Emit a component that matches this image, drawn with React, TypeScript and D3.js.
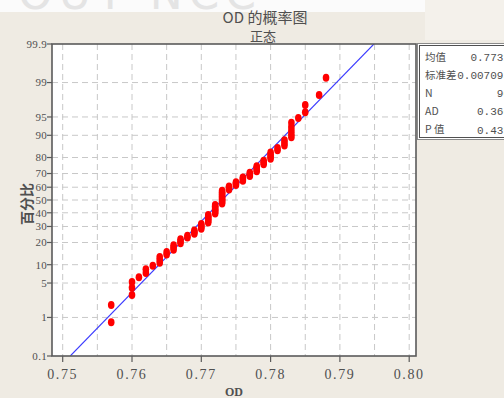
import { useEffect, useRef } from "react";
import * as d3 from "d3";

// OD readings (rounded to 0.001) and how many times each occurs
const odValues = [
  0.757, 0.76, 0.761, 0.762, 0.763, 0.764, 0.765, 0.766, 0.767, 0.768, 0.769,
  0.77, 0.771, 0.772, 0.773, 0.774, 0.775, 0.776, 0.777, 0.778, 0.779, 0.78,
  0.781, 0.782, 0.783, 0.784, 0.785, 0.787, 0.788,
];
const odCounts = [
  2, 3, 1, 2, 1, 3, 2, 3, 3, 2, 3, 4, 6, 7, 10, 3, 3, 3, 3, 4, 3, 4, 2, 3, 5,
  1, 2, 1, 1,
];

const yTickPercents = [0.1, 1, 5, 10, 20, 30, 40, 50, 60, 70, 80, 90, 95, 99, 99.9];
const xTicks = [0.75, 0.76, 0.77, 0.78, 0.79, 0.8];
const xGrid = [0.75, 0.755, 0.76, 0.765, 0.77, 0.775, 0.78, 0.785, 0.79, 0.795, 0.8];

const statLabels = ["均值", "标准差", "N", "AD", "P 值"];
const statValues = ["0.7731", "0.007093", "90", "0.366", "0.435"];

const fitMean = 0.773;
const fitSd = 0.00709;

// inverse normal cdf (Acklam)
function probit(p: number) {
  const a = [-39.69683028665376, 220.9460984245205, -275.928510446969, 138.357751867269, -30.66479806614716, 2.506628277459239];
  const b = [-54.47609879822406, 161.5858368580409, -155.6989798598866, 66.80131188771972, -13.28068155288572];
  const c = [-0.007784894002430293, -0.3223964580411365, -2.400758277161838, -2.549732539343734, 4.374664141464968, 2.938163982698783];
  const d = [0.007784695709041462, 0.3224671290700398, 2.445134137142996, 3.754408661907416];
  const plow = 0.02425;
  if (p < plow) {
    const q = Math.sqrt(-2 * Math.log(p));
    return (((((c[0] * q + c[1]) * q + c[2]) * q + c[3]) * q + c[4]) * q + c[5]) /
      ((((d[0] * q + d[1]) * q + d[2]) * q + d[3]) * q + 1);
  }
  if (p > 1 - plow) {
    const q = Math.sqrt(-2 * Math.log(1 - p));
    return -(((((c[0] * q + c[1]) * q + c[2]) * q + c[3]) * q + c[4]) * q + c[5]) /
      ((((d[0] * q + d[1]) * q + d[2]) * q + d[3]) * q + 1);
  }
  const q = p - 0.5;
  const r = q * q;
  return ((((((a[0] * r + a[1]) * r + a[2]) * r + a[3]) * r + a[4]) * r + a[5]) * q) /
    (((((b[0] * r + b[1]) * r + b[2]) * r + b[3]) * r + b[4]) * r + 1);
}

const ProbabilityPlot = () => {
  const ref = useRef<SVGSVGElement | null>(null);

  useEffect(() => {
    if (!ref.current) return;
    const width = 504;
    const height = 398;
    const plot = { left: 52, right: 416, top: 44, bottom: 356 };
    const textColor = "#505050";
    const numFont = "'Liberation Serif', 'Noto Sans CJK SC', serif";
    const cjkFont = "'Noto Sans CJK SC', 'Liberation Serif', serif";

    const svg = d3.select(ref.current);
    svg.selectAll("*").remove();
    svg.attr("width", width).attr("height", height);

    // background
    svg.append("rect").attr("width", width).attr("height", height).attr("fill", "#efebe3");
    svg.append("rect").attr("x", 0).attr("y", 0).attr("width", 425).attr("height", 12).attr("fill", "#fbfbfb");
    svg.append("rect").attr("x", 425).attr("y", 0).attr("width", 79).attr("height", 40).attr("fill", "#f4f1eb");
    svg
      .append("clipPath")
      .attr("id", "wmClip")
      .append("rect")
      .attr("width", 425)
      .attr("height", 12);
    svg
      .append("text")
      .attr("clip-path", "url(#wmClip)")
      .attr("x", 18)
      .attr("y", 9)
      .attr("font-family", "'DejaVu Sans', sans-serif")
      .attr("font-size", 44)
      .attr("letter-spacing", 6)
      .attr("fill", "#e4e4e4")
      .text("OUT NCC");

    const x = d3.scaleLinear().domain([0.75, 0.8]).range([62.7, 409.2]);
    const y = d3
      .scaleLinear()
      .domain([probit(0.001), probit(0.999)])
      .range([plot.bottom, plot.top]);

    svg
      .append("rect")
      .attr("x", plot.left)
      .attr("y", plot.top)
      .attr("width", plot.right - plot.left)
      .attr("height", plot.bottom - plot.top)
      .attr("fill", "white");

    // grid
    svg
      .append("g")
      .selectAll("line")
      .data(xGrid)
      .join("line")
      .attr("x1", (d) => x(d))
      .attr("x2", (d) => x(d))
      .attr("y1", plot.top)
      .attr("y2", plot.bottom)
      .attr("stroke", "#c8c8c8")
      .attr("stroke-dasharray", "6,4");

    svg
      .append("g")
      .selectAll("line")
      .data(yTickPercents.slice(1, -1))
      .join("line")
      .attr("x1", plot.left)
      .attr("x2", plot.right)
      .attr("y1", (d) => y(probit(d / 100)))
      .attr("y2", (d) => y(probit(d / 100)))
      .attr("stroke", "#c8c8c8")
      .attr("stroke-dasharray", "6,4");

    // fitted line
    const zLo = probit(0.001);
    const zHi = probit(0.999);
    const clipId = "plotClip";
    svg
      .append("clipPath")
      .attr("id", clipId)
      .append("rect")
      .attr("x", plot.left)
      .attr("y", plot.top)
      .attr("width", plot.right - plot.left)
      .attr("height", plot.bottom - plot.top);
    svg
      .append("line")
      .attr("clip-path", `url(#${clipId})`)
      .attr("x1", x(fitMean + fitSd * zLo))
      .attr("y1", y(zLo))
      .attr("x2", x(fitMean + fitSd * zHi))
      .attr("y2", y(zHi))
      .attr("stroke", "#3b3bff")
      .attr("stroke-width", 1.1);

    // points, median rank plotting positions
    const sorted: number[] = [];
    odValues.forEach((v, i) => {
      for (let k = 0; k < odCounts[i]; k++) sorted.push(v);
    });
    sorted.sort((a, b) => a - b);
    const n = sorted.length;
    const pts = sorted.map((v, i) => ({ v, z: probit((i + 1 - 0.3) / (n + 0.4)) }));

    svg
      .append("g")
      .selectAll("ellipse")
      .data(pts)
      .join("ellipse")
      .attr("cx", (d) => x(d.v))
      .attr("cy", (d) => y(d.z))
      .attr("rx", 3.3)
      .attr("ry", 4)
      .attr("fill", "#ff0000");

    // border
    svg
      .append("rect")
      .attr("x", plot.left)
      .attr("y", plot.top)
      .attr("width", plot.right - plot.left)
      .attr("height", plot.bottom - plot.top)
      .attr("fill", "none")
      .attr("stroke", "#5a5a5a")
      .attr("stroke-width", 1.6);

    // y axis ticks and labels
    const yAxis = svg.append("g");
    yTickPercents.forEach((p) => {
      const yy = y(probit(p / 100));
      yAxis
        .append("line")
        .attr("x1", plot.left - 5)
        .attr("x2", plot.left)
        .attr("y1", yy)
        .attr("y2", yy)
        .attr("stroke", "#5a5a5a")
        .attr("stroke-width", 1.2);
      yAxis
        .append("text")
        .attr("x", plot.left - 5)
        .attr("y", yy)
        .attr("dy", "0.35em")
        .attr("text-anchor", "end")
        .attr("font-family", numFont)
        .attr("font-size", 11)
        .attr("letter-spacing", 0.3)
        .attr("fill", textColor)
        .text(String(p));
    });

    // x axis ticks and labels
    const xAxis = svg.append("g");
    xTicks.forEach((t) => {
      xAxis
        .append("line")
        .attr("x1", x(t))
        .attr("x2", x(t))
        .attr("y1", plot.bottom)
        .attr("y2", plot.bottom + 6)
        .attr("stroke", "#5a5a5a")
        .attr("stroke-width", 1.2);
      xAxis
        .append("text")
        .attr("x", x(t))
        .attr("y", 379)
        .attr("text-anchor", "middle")
        .attr("font-family", numFont)
        .attr("font-size", 14)
        .attr("letter-spacing", 1.6)
        .attr("fill", textColor)
        .text(d3.format(".2f")(t));
    });

    // titles
    svg
      .append("text")
      .attr("x", 265)
      .attr("y", 23)
      .attr("text-anchor", "middle")
      .attr("font-family", cjkFont)
      .attr("font-size", 15)
      .attr("fill", textColor)
      .text("OD 的概率图");
    svg
      .append("text")
      .attr("x", 263)
      .attr("y", 41)
      .attr("text-anchor", "middle")
      .attr("font-family", cjkFont)
      .attr("font-size", 13)
      .attr("fill", textColor)
      .text("正态");
    svg
      .append("text")
      .attr("transform", `translate(32,204) rotate(-90)`)
      .attr("text-anchor", "middle")
      .attr("font-family", cjkFont)
      .attr("font-size", 14)
      .attr("font-weight", 700)
      .attr("fill", textColor)
      .text("百分比");
    svg
      .append("text")
      .attr("x", 234)
      .attr("y", 396)
      .attr("text-anchor", "middle")
      .attr("font-family", numFont)
      .attr("font-size", 12)
      .attr("font-weight", 700)
      .attr("fill", textColor)
      .text("OD");

    // stats box
    const box = svg.append("g");
    box
      .append("rect")
      .attr("x", 417.5)
      .attr("y", 43.5)
      .attr("width", 100)
      .attr("height", 96)
      .attr("fill", "white")
      .attr("stroke", "#8a8a8a");
    box
      .append("rect")
      .attr("x", 419.5)
      .attr("y", 45.5)
      .attr("width", 100)
      .attr("height", 92)
      .attr("fill", "none")
      .attr("stroke", "#505050");
    statLabels.forEach((label, i) => {
      const yy = 57 + i * 18.2;
      box
        .append("text")
        .attr("x", 425)
        .attr("y", yy)
        .attr("dy", "0.35em")
        .attr("font-family", cjkFont)
        .attr("font-size", 10.5)
        .attr("fill", textColor)
        .text(label);
      box
        .append("text")
        .attr("x", 510)
        .attr("y", yy)
        .attr("dy", "0.35em")
        .attr("text-anchor", "end")
        .attr("font-family", "'Liberation Mono', monospace")
        .attr("font-size", 11)
        .attr("fill", textColor)
        .text(statValues[i]);
    });
  }, []);

  return (
    <div style={{ position: "fixed", left: 0, top: 0 }}>
      <svg ref={ref} style={{ display: "block" }}></svg>
    </div>
  );
};

export default function App() {
  return <ProbabilityPlot />;
}
